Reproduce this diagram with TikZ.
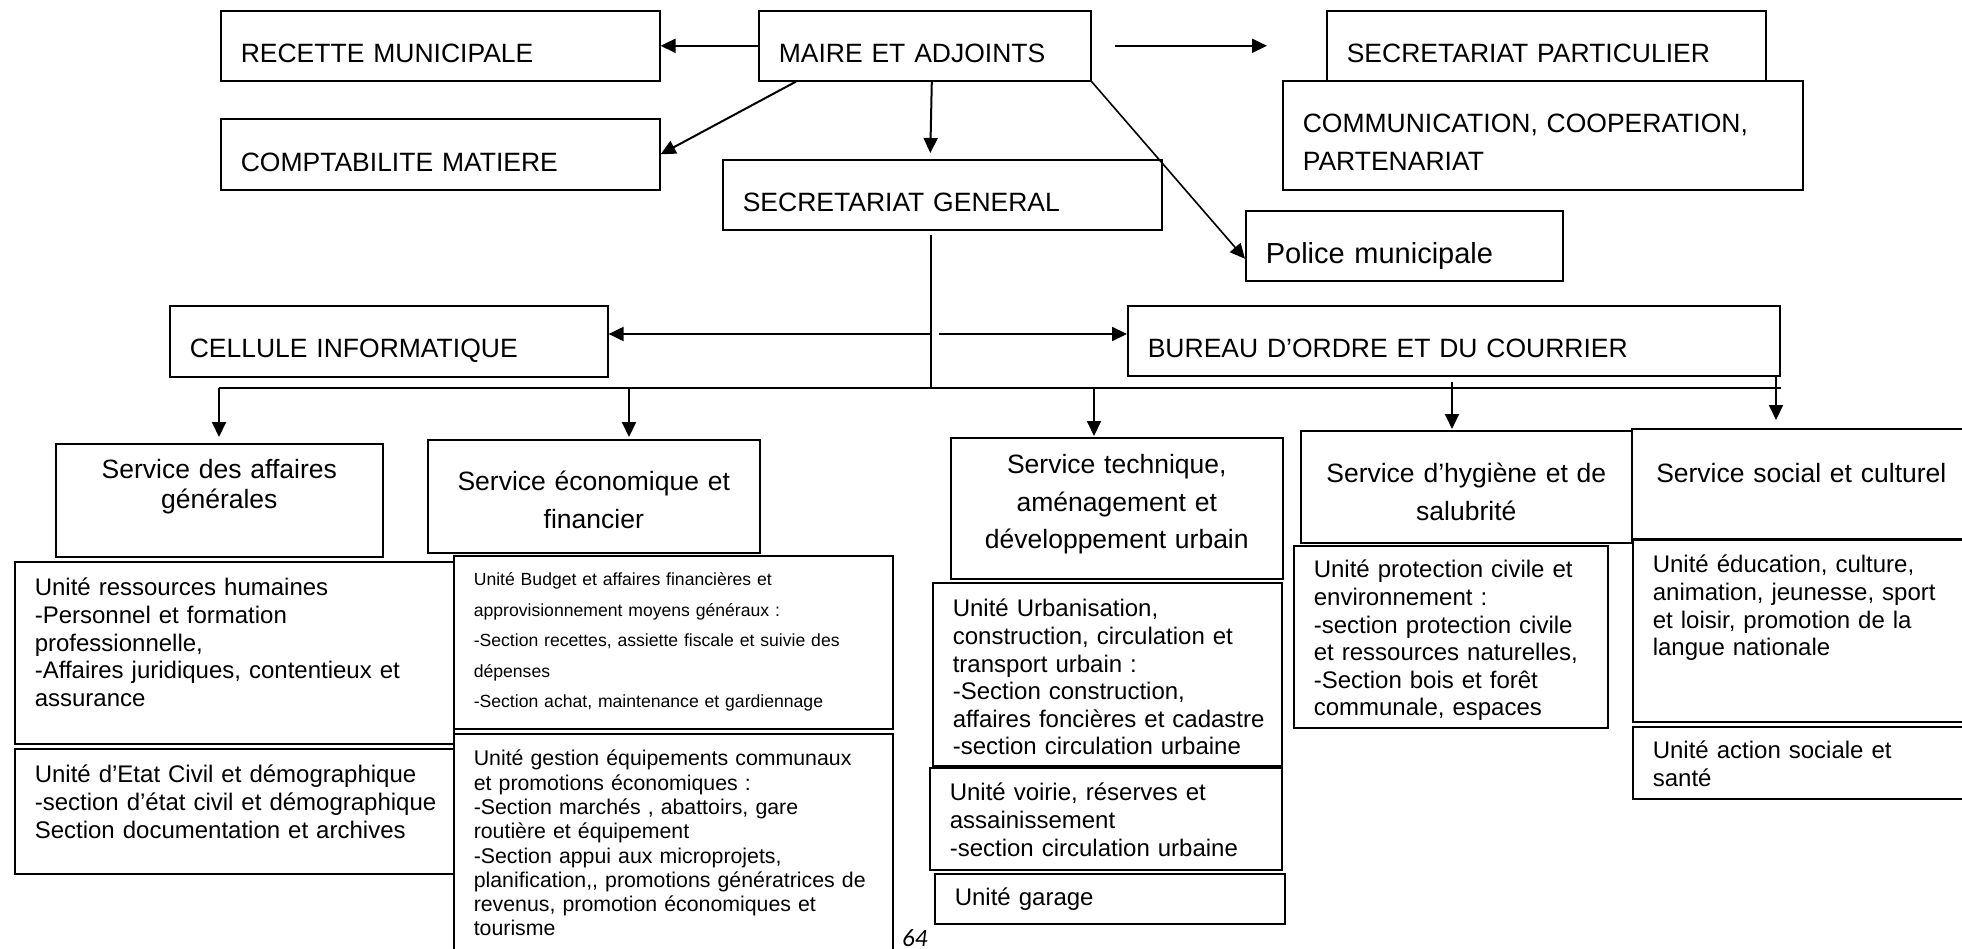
\documentclass[tikz,border=0pt]{standalone}
\usepackage{fontspec}
\setmainfont{Liberation Sans}
\newfontfamily\pagefont{Carlito}
\usetikzlibrary{arrows.meta}

% lines of a box, set one under the other
\newcommand{\boxlines}[1]{\begin{tabular}[t]{@{}l@{}}#1\end{tabular}}
\newcommand{\midlines}[1]{\begin{tabular}[t]{@{}c@{}}#1\end{tabular}}

\begin{document}
\begin{tikzpicture}[x=1pt, y=-1pt,
        box/.style={draw, line width=1.6pt, anchor=north west, inner xsep=20pt, inner ysep=0pt, align=left},
        midbox/.style={box, align=center},
        boxsize/.style n args={3}{text width=#1pt, text height=#2pt, text depth=#3pt},
        head/.style={font=\fontsize{26.5}{37.5}\selectfont},
        unit/.style={font=\fontsize{24}{27.6}\selectfont},
        arr/.style={line width=2pt, -{Triangle[length=15pt, width=14pt]}},
        link/.style={line width=2pt}
    ]
        \useasboundingbox (0,0) rectangle (1962,949);

        % Mayor and the offices round him
        \node[box, head, boxsize={399}{52}{18}] (rec) at (220,10) {\boxlines{RECETTE MUNICIPALE}};
        \node[box, head, boxsize={292}{52}{18}] (maire) at (758,10) {\boxlines{MAIRE ET ADJOINTS}};
        \node[box, head, boxsize={399}{52}{18}] (sp) at (1326,10) {\boxlines{SECRETARIAT PARTICULIER}};
        \node[box, head, boxsize={399}{53}{18}] (compta) at (220,118) {\boxlines{COMPTABILITE MATIERE}};
        \node[box, head, boxsize={480}{52}{57}] (comm) at (1282,80) {\boxlines{COMMUNICATION, COOPERATION,\\PARTENARIAT}};
        \node[box, head, boxsize={399}{52}{18}] (sg) at (722,159) {\boxlines{SECRETARIAT GENERAL}};
        \node[box, font=\fontsize{29}{34}\selectfont, boxsize={277}{53}{17}] (police) at (1245,210) {\boxlines{Police municipale}};
        \node[box, head, boxsize={398}{52}{19}] (cell) at (169,305) {\boxlines{CELLULE INFORMATIQUE}};
        \node[box, head, boxsize={612}{52}{18}] (bur) at (1127,305) {\boxlines{BUREAU D’ORDRE ET DU COURRIER}};

        % Services
        \node[midbox, font=\fontsize{26.5}{29.5}\selectfont, boxsize={287}{35}{78}] (sag) at (55,443) {\midlines{Service des affaires\\générales}};
        \node[midbox, head, boxsize={292}{51}{62}] (sef) at (427,439) {\midlines{Service économique et\\financier}};
        \node[midbox, head, boxsize={292}{36}{105}] (sta) at (950,437) {\midlines{Service technique,\\aménagement et\\développement urbain}};
        \node[midbox, head, boxsize={291}{52}{60}] (shs) at (1300,430) {\midlines{Service d’hygiène et de\\salubrité}};
        \node[midbox, head, boxsize={299}{54}{56}] (ssc) at (1631,428) {\midlines{Service social et culturel}};

        % Units
        \node[box, unit, boxsize={399}{34}{148}] (urh) at (14,561) {\boxlines{Unité ressources humaines\\-Personnel et formation\\professionnelle,\\-Affaires juridiques, contentieux et\\assurance}};
        \node[box, unit, boxsize={399}{34}{91}] (uec) at (14,748) {\boxlines{Unité d’Etat Civil et démographique\\-section d’état civil et démographique\\Section documentation et archives}};
        \node[box, font=\fontsize{17.6}{30.5}\selectfont, boxsize={399}{30}{143}] (ubud) at (453,555) {\boxlines{Unité Budget et affaires financières et\\approvisionnement moyens généraux :\\-Section recettes, assiette fiscale et suivie des\\dépenses\\-Section achat, maintenance et gardiennage}};
        \node[box, font=\fontsize{21.3}{24.3}\selectfont, boxsize={399}{32}{198}] (uges) at (453,733) {\boxlines{Unité gestion équipements communaux\\et promotions économiques :\\-Section marchés , abattoirs, gare\\routière et équipement\\-Section appui aux microprojets,\\planification,{}, promotions génératrices de\\revenus, promotion économiques et\\tourisme}};
        \node[box, unit, boxsize={309}{34}{149}] (uurb) at (932,582) {\boxlines{Unité Urbanisation,\\construction, circulation et\\transport urbain :\\-Section construction,\\affaires foncières et cadastre\\-section circulation urbaine}};
        \node[box, unit, boxsize={312}{33}{69}] (uvoi) at (929,767) {\boxlines{Unité voirie, réserves et\\assainissement\\-section circulation urbaine}};
        \node[box, unit, boxsize={310}{32}{18}] (ugar) at (934,873) {\boxlines{Unité garage}};
        \node[box, unit, boxsize={274}{32}{150}] (upro) at (1293,545) {\boxlines{Unité protection civile et\\environnement :\\-section protection civile\\et ressources naturelles,\\-Section bois et forêt\\communale, espaces}};
        \node[box, unit, boxsize={298}{33}{149}] (uedu) at (1632,539) {\boxlines{Unité éducation, culture,\\animation, jeunesse, sport\\et loisir, promotion de la\\langue nationale}};
        \node[box, unit, boxsize={298}{32}{40}] (uact) at (1632,726) {\boxlines{Unité action sociale et\\santé}};

        \node[font=\pagefont\itshape\fontsize{25}{30}\selectfont, anchor=base west, inner sep=0pt] (page) at (902,946) {64};

        % Links from the mayor
        \draw[arr] (maire.west) -- (rec.east);
        \draw[arr] ([xshift=38pt]maire.south west) -- (compta.east);
        \draw[arr] ([xshift=7pt]maire.south) -- ([xshift=-12pt, yshift=6pt]sg.north);
        \draw[arr] ([xshift=23pt]maire.east) -- ([xshift=-59pt]sp.west);
        \draw[arr, line width=1.6pt] (maire.south east) -- ([yshift=-13pt]police.west);

        % Secretariat general down to the services
        \coordinate (sgfoot) at (931,235);
        \coordinate (hub) at (931,334);
        \coordinate (bus) at (931,388);
        \draw[line width=1.2pt] (sgfoot) -- (bus);
        \draw[arr] (hub) -- (hub -| cell.east);
        \draw[arr] ([xshift=8pt]hub) -- (hub -| bur.west);
        \draw[link] (sag.north |- bus) -- (bur.east |- bus);
        \foreach \x/\n/\s/\g in {219/sag/0pt/6pt, 629/sef/0pt/2pt, 1094/sta/0pt/1pt, 1452/shs/-6pt/1pt} {
            \draw[arr, shorten <=\s, shorten >=\g] (\x,0 |- bus) -- (\x,0 |- \n.north);
        }
        \draw[arr, shorten >=8pt] (1776,0 |- bur.south) -- (1776,0 |- ssc.north);

    \end{tikzpicture}
\end{document}
